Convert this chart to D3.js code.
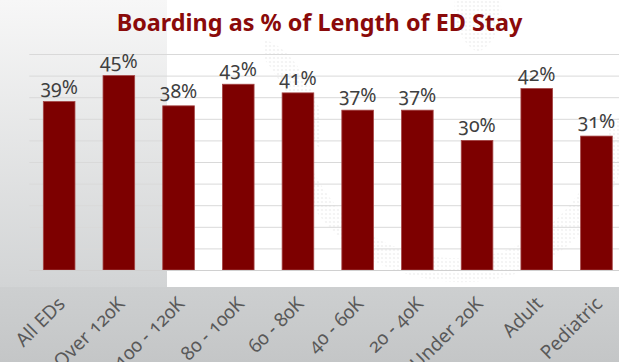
<!DOCTYPE html>
<html>
<head>
<meta charset="utf-8">
<script src="https://cdn.jsdelivr.net/npm/d3@7"></script>
<style>
  html, body { margin: 0; padding: 0; background: #ffffff; }
  svg { display: block; }
  text { font-family: "Noto Sans", "Open Sans", sans-serif; }
</style>
</head>
<body>
<svg id="chart" width="619" height="362"></svg>
<script>
// Boarding share of ED length of stay, by ED volume group and patient type
const categories = ["All EDs", "Over 120K", "100 - 120K", "80 - 100K", "60 - 80K",
                    "40 - 60K", "20 - 40K", "Under 20K", "Adult", "Pediatric"];
const boardingPct = [39, 45, 38, 43, 41, 37, 37, 30, 42, 31];
const yTicks = [0, 5, 10, 15, 20, 25, 30, 35, 40, 45, 50];
const title = "Boarding as % of Length of ED Stay";

const W = 619, H = 362;
const svg = d3.select("#chart");
const defs = svg.append("defs");

// slide backdrop: grey side panel, grey footer band, faint dotted emblem
const panelGrad = defs.append("linearGradient")
  .attr("id", "panelGrad").attr("x1", 0).attr("y1", 0).attr("x2", 0).attr("y2", 1);
panelGrad.append("stop").attr("offset", "0%").attr("stop-color", "#f7f7f7");
panelGrad.append("stop").attr("offset", "100%").attr("stop-color", "#d2d4d5");

const footGrad = defs.append("linearGradient")
  .attr("id", "footGrad").attr("x1", 0).attr("y1", 0).attr("x2", 0).attr("y2", 1);
footGrad.append("stop").attr("offset", "0%").attr("stop-color", "#cdcfd0");
footGrad.append("stop").attr("offset", "100%").attr("stop-color", "#c4c6c7");

const dots = defs.append("pattern")
  .attr("id", "dots").attr("width", 4).attr("height", 4)
  .attr("patternUnits", "userSpaceOnUse");
dots.append("circle").attr("cx", 2).attr("cy", 2).attr("r", 1.1).attr("fill", "#c4c4c4");

svg.append("rect").attr("width", W).attr("height", H).attr("fill", "#ffffff");
svg.append("rect").attr("x", 0).attr("y", 0).attr("width", 167).attr("height", 288)
  .attr("fill", "url(#panelGrad)");
svg.append("rect").attr("x", 0).attr("y", 287).attr("width", W).attr("height", H - 287)
  .attr("fill", "url(#footGrad)");

const emblem = svg.append("g").attr("opacity", 0.22);
emblem.append("path")
  .attr("d", "M300,140 C330,230 400,262 470,258 C540,252 590,200 612,120 L619,118 L619,175 C590,250 520,285 455,282 C380,278 320,240 295,170 Z")
  .attr("fill", "url(#dots)");
emblem.append("path")
  .attr("d", "M455,0 L500,0 C505,20 495,45 478,52 C462,45 452,22 455,0 Z")
  .attr("fill", "url(#dots)");
emblem.append("path")
  .attr("d", "M265,40 C285,45 305,70 320,110 L320,150 C300,120 285,85 265,60 Z")
  .attr("fill", "url(#dots)");

// scales
const x = d3.scaleBand()
  .domain(categories)
  .range([29.3, 626.3])
  .paddingInner(0.47)
  .paddingOuter(0.235);

const y = d3.scaleLinear().domain([0, 50]).range([270, 54]);

// horizontal gridlines
const yAxis = d3.axisLeft(y).tickValues(yTicks).tickSize(-(W - 29.3)).tickFormat("");
const gy = svg.append("g").attr("transform", "translate(29.3,0)").call(yAxis);
gy.select(".domain").remove();
gy.selectAll(".tick line").attr("stroke", "#d9d9d9").attr("stroke-width", 1);

// bars
svg.append("g").selectAll("rect")
  .data(categories)
  .join("rect")
  .attr("x", d => x(d))
  .attr("y", (d, i) => y(boardingPct[i]))
  .attr("width", x.bandwidth())
  .attr("height", (d, i) => y(0) - y(boardingPct[i]))
  .attr("fill", "#7d0000")
  .attr("stroke", "#a54545")
  .attr("stroke-width", 0.8);

// baseline
svg.append("line")
  .attr("x1", 29.3).attr("x2", W)
  .attr("y1", y(0) + 0.5).attr("y2", y(0) + 0.5)
  .attr("stroke", "#d0d0d0").attr("stroke-width", 1);

// value labels
svg.append("g").selectAll("text")
  .data(categories)
  .join("text")
  .attr("x", d => x(d) + x.bandwidth() / 2)
  .attr("y", (d, i) => y(boardingPct[i]) - 8)
  .attr("text-anchor", "middle")
  .attr("font-size", 19.5)
  .attr("fill", "#3f3f3f")
  .style("font-variant-numeric", "oldstyle-nums")
  .text((d, i) => boardingPct[i] + "%");

// rotated category labels
const xAxis = d3.axisBottom(x).tickSize(0).tickPadding(0);
const gx = svg.append("g").call(xAxis);
gx.select(".domain").remove();
gx.selectAll(".tick text")
  .attr("y", 0).attr("dy", 0)
  .attr("text-anchor", "end")
  .attr("font-size", 19)
  .attr("font-family", "'Noto Sans', 'Open Sans', sans-serif")
  .attr("fill", "#595959")
  .style("font-variant-numeric", "oldstyle-nums")
  .attr("transform", "translate(7,305) rotate(-45)");

// title
svg.append("text")
  .attr("x", 319.5)
  .attr("y", 31)
  .attr("text-anchor", "middle")
  .attr("font-size", 23.4)
  .attr("font-weight", "bold")
  .attr("fill", "#8a0a0a")
  .text(title);
</script>
</body>
</html>
